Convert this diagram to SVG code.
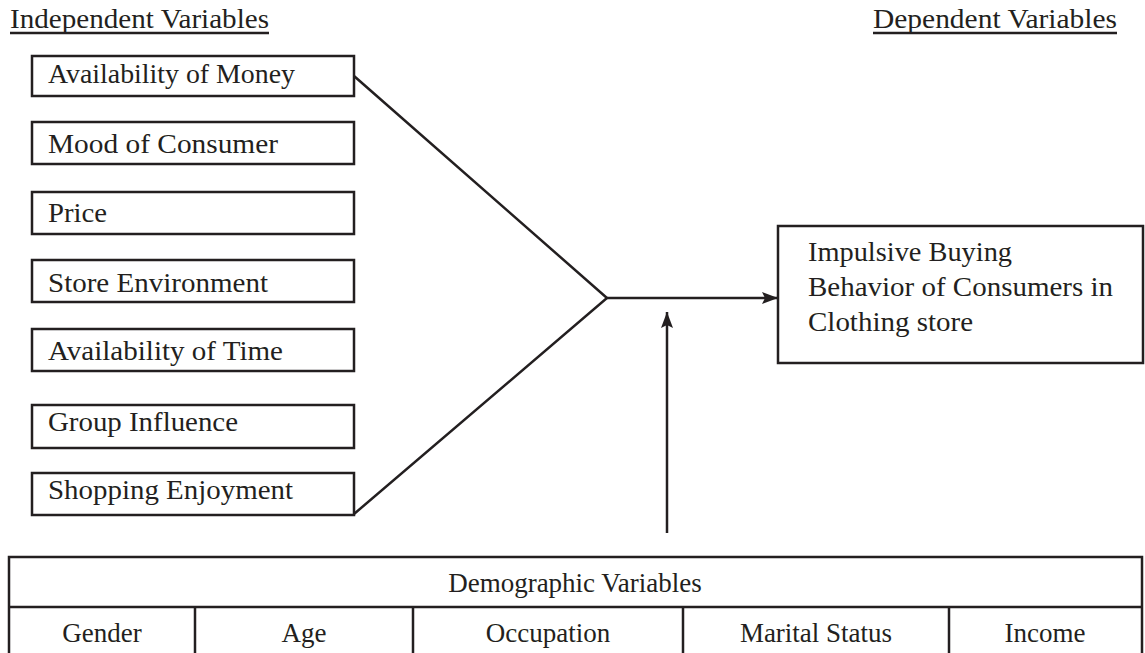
<svg xmlns="http://www.w3.org/2000/svg" width="1145" height="653" viewBox="0 0 1145 653">
  <style>
    .bg { fill: #ffffff; }
    .box { fill: #ffffff; stroke: #231f20; stroke-width: 2.5; }
    .ln { fill: none; stroke: #231f20; stroke-width: 2.5; }
    .t { font-family: "Liberation Serif", "Times New Roman", serif; font-size: 26.5px; fill: #231f20; }
    .tt { font-family: "Liberation Serif", "Times New Roman", serif; font-size: 27px; fill: #231f20; }
    .mid { text-anchor: middle; }
  </style>
  <defs>
    <marker id="ah" viewBox="0 0 16 12" refX="16" refY="6" markerWidth="16" markerHeight="12" markerUnits="userSpaceOnUse" orient="auto">
      <path d="M0,0 L16,6 L0,12 L3,6 Z" fill="#231f20"/>
    </marker>
  </defs>
  <rect class="bg" x="0" y="0" width="1145" height="653"/>

  <g id="header-independent">
    <text class="tt" x="10" y="28" textLength="259" lengthAdjust="spacingAndGlyphs">Independent Variables</text>
    <line class="ln" x1="10" y1="33" x2="269" y2="33" stroke-width="1.2"/>
  </g>
  <g id="header-dependent">
    <text class="tt" x="873" y="28" textLength="244" lengthAdjust="spacingAndGlyphs">Dependent Variables</text>
    <line class="ln" x1="873" y1="33" x2="1117" y2="33" stroke-width="1.2"/>
  </g>

  <g id="iv-money">
    <rect class="box" x="32" y="56" width="322" height="40"/>
    <text class="t" x="48" y="83" textLength="247" lengthAdjust="spacingAndGlyphs">Availability of Money</text>
  </g>
  <g id="iv-mood">
    <rect class="box" x="32" y="122" width="322" height="42"/>
    <text class="t" x="48" y="153" textLength="230" lengthAdjust="spacingAndGlyphs">Mood of Consumer</text>
  </g>
  <g id="iv-price">
    <rect class="box" x="32" y="192" width="322" height="42"/>
    <text class="t" x="48" y="222" textLength="59" lengthAdjust="spacingAndGlyphs">Price</text>
  </g>
  <g id="iv-store">
    <rect class="box" x="32" y="260" width="322" height="42"/>
    <text class="t" x="48" y="292" textLength="220" lengthAdjust="spacingAndGlyphs">Store Environment</text>
  </g>
  <g id="iv-time">
    <rect class="box" x="32" y="329" width="322" height="42"/>
    <text class="t" x="48" y="360" textLength="235" lengthAdjust="spacingAndGlyphs">Availability of Time</text>
  </g>
  <g id="iv-group">
    <rect class="box" x="32" y="405" width="322" height="43"/>
    <text class="t" x="48" y="431" textLength="190" lengthAdjust="spacingAndGlyphs">Group Influence</text>
  </g>
  <g id="iv-shopping">
    <rect class="box" x="32" y="473" width="322" height="42"/>
    <text class="t" x="48" y="499" textLength="245" lengthAdjust="spacingAndGlyphs">Shopping Enjoyment</text>
  </g>

  <g id="dv-impulsive">
    <rect class="box" x="778" y="226" width="365" height="137"/>
    <text class="t" x="808" y="261" textLength="204" lengthAdjust="spacingAndGlyphs">Impulsive Buying</text>
    <text class="t" x="808" y="296" textLength="305" lengthAdjust="spacingAndGlyphs">Behavior of Consumers in</text>
    <text class="t" x="808" y="331" textLength="165" lengthAdjust="spacingAndGlyphs">Clothing store</text>
  </g>

  <g id="demographics">
    <rect class="box" x="9" y="557" width="1133" height="110"/>
    <line class="ln" x1="9" y1="607" x2="1142" y2="607"/>
    <line class="ln" x1="195" y1="607" x2="195" y2="660"/>
    <line class="ln" x1="413" y1="607" x2="413" y2="660"/>
    <line class="ln" x1="683" y1="607" x2="683" y2="660"/>
    <line class="ln" x1="949" y1="607" x2="949" y2="660"/>
    <text class="tt mid" x="575" y="592">Demographic Variables</text>
    <text class="tt mid" x="102" y="642">Gender</text>
    <text class="tt mid" x="304" y="642">Age</text>
    <text class="tt mid" x="548" y="642">Occupation</text>
    <text class="tt mid" x="816" y="642">Marital Status</text>
    <text class="tt mid" x="1045" y="642">Income</text>
  </g>

  <g id="connectors">
    <polyline class="ln" points="354,76 607,298 354,514"/>
    <line class="ln" x1="607" y1="298" x2="778" y2="298" marker-end="url(#ah)"/>
    <line class="ln" x1="667" y1="533" x2="667" y2="312" marker-end="url(#ah)"/>
  </g>
</svg>
